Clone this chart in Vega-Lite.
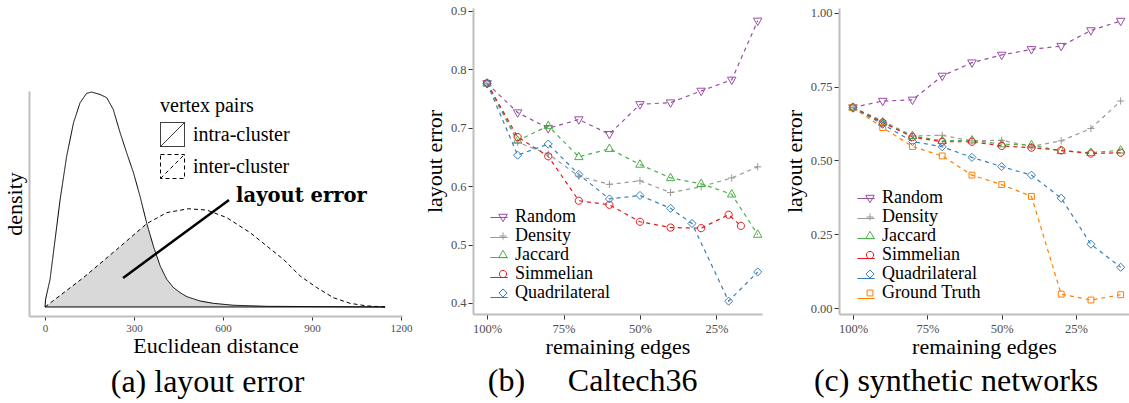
{
  "$schema": "https://vega.github.io/schema/vega-lite/v6.json",
  "padding": {"left": 2, "top": 4, "right": 0, "bottom": 0},
  "config": {
    "font": "Liberation Serif",
    "view": {"stroke": "transparent"},
    "axis": {"grid": false, "labelFlush": false, "domainColor": "#bebebe", "domainWidth": 2, "tickColor": "#333333", "tickWidth": 1, "labelColor": "#4d4d4d", "labelFont": "Liberation Serif", "titleFont": "Liberation Serif", "titleFontWeight": "normal", "titleColor": "#000000"},
    "legend": {"labelFont": "Liberation Serif", "titleFont": "Liberation Serif", "titleFontWeight": "normal", "labelColor": "#000000", "titleColor": "#000000"},
    "title": {"font": "Liberation Serif", "fontWeight": "normal", "fontSize": 32, "color": "#000000", "orient": "bottom", "frame": "bounds", "anchor": "middle"}
  },
  "resolve": {"scale": {"color": "independent", "shape": "independent", "stroke": "independent", "strokeDash": "independent"}, "legend": {"color": "independent", "shape": "independent", "stroke": "independent", "strokeDash": "independent"}},
  "datasets": {
    "density": [
      {"pairs": "intra-cluster", "d": 0, "v": 0}, {"pairs": "intra-cluster", "d": 2, "v": 0.036}, {"pairs": "intra-cluster", "d": 17, "v": 0.129}, {"pairs": "intra-cluster", "d": 34, "v": 0.315}, {"pairs": "intra-cluster", "d": 51, "v": 0.501}, {"pairs": "intra-cluster", "d": 73, "v": 0.702}, {"pairs": "intra-cluster", "d": 96, "v": 0.857}, {"pairs": "intra-cluster", "d": 118, "v": 0.95}, {"pairs": "intra-cluster", "d": 140, "v": 0.994}, {"pairs": "intra-cluster", "d": 157, "v": 1.0}, {"pairs": "intra-cluster", "d": 185, "v": 0.989}, {"pairs": "intra-cluster", "d": 208, "v": 0.974}, {"pairs": "intra-cluster", "d": 230, "v": 0.919}, {"pairs": "intra-cluster", "d": 253, "v": 0.811}, {"pairs": "intra-cluster", "d": 275, "v": 0.718}, {"pairs": "intra-cluster", "d": 298, "v": 0.625}, {"pairs": "intra-cluster", "d": 320, "v": 0.516}, {"pairs": "intra-cluster", "d": 343, "v": 0.388}, {"pairs": "intra-cluster", "d": 365, "v": 0.284}, {"pairs": "intra-cluster", "d": 388, "v": 0.191}, {"pairs": "intra-cluster", "d": 410, "v": 0.129}, {"pairs": "intra-cluster", "d": 433, "v": 0.09}, {"pairs": "intra-cluster", "d": 455, "v": 0.067}, {"pairs": "intra-cluster", "d": 478, "v": 0.048}, {"pairs": "intra-cluster", "d": 522, "v": 0.028}, {"pairs": "intra-cluster", "d": 567, "v": 0.017}, {"pairs": "intra-cluster", "d": 635, "v": 0.008}, {"pairs": "intra-cluster", "d": 747, "v": 0.003}, {"pairs": "intra-cluster", "d": 972, "v": 0.0015}, {"pairs": "intra-cluster", "d": 1146, "v": 0},
      {"pairs": "inter-cluster", "d": 0, "v": 0}, {"pairs": "inter-cluster", "d": 129, "v": 0.136}, {"pairs": "inter-cluster", "d": 242, "v": 0.268}, {"pairs": "inter-cluster", "d": 343, "v": 0.388}, {"pairs": "inter-cluster", "d": 410, "v": 0.439}, {"pairs": "inter-cluster", "d": 483, "v": 0.457}, {"pairs": "inter-cluster", "d": 545, "v": 0.451}, {"pairs": "inter-cluster", "d": 612, "v": 0.416}, {"pairs": "inter-cluster", "d": 691, "v": 0.346}, {"pairs": "inter-cluster", "d": 747, "v": 0.284}, {"pairs": "inter-cluster", "d": 803, "v": 0.222}, {"pairs": "inter-cluster", "d": 860, "v": 0.144}, {"pairs": "inter-cluster", "d": 916, "v": 0.09}, {"pairs": "inter-cluster", "d": 972, "v": 0.043}, {"pairs": "inter-cluster", "d": 1028, "v": 0.017}, {"pairs": "inter-cluster", "d": 1084, "v": 0.005}, {"pairs": "inter-cluster", "d": 1146, "v": 0}
    ],
    "overlap": [
      {"d": 0, "v": 0}, {"d": 129, "v": 0.136}, {"d": 242, "v": 0.268}, {"d": 343, "v": 0.388}, {"d": 365, "v": 0.284}, {"d": 388, "v": 0.191}, {"d": 410, "v": 0.129}, {"d": 433, "v": 0.09}, {"d": 455, "v": 0.067}, {"d": 478, "v": 0.048}, {"d": 522, "v": 0.028}, {"d": 567, "v": 0.017}, {"d": 635, "v": 0.008}, {"d": 747, "v": 0.003}, {"d": 972, "v": 0.0015}, {"d": 1146, "v": 0}
    ],
    "caltech": [
      {"method": "Random", "edges": 100, "err": 0.776}, {"method": "Random", "edges": 90, "err": 0.726}, {"method": "Random", "edges": 80, "err": 0.699}, {"method": "Random", "edges": 70, "err": 0.714}, {"method": "Random", "edges": 60, "err": 0.689}, {"method": "Random", "edges": 50, "err": 0.74}, {"method": "Random", "edges": 40, "err": 0.743}, {"method": "Random", "edges": 30, "err": 0.763}, {"method": "Random", "edges": 20, "err": 0.782}, {"method": "Random", "edges": 11.5, "err": 0.883},
      {"method": "Density", "edges": 100, "err": 0.776}, {"method": "Density", "edges": 90, "err": 0.675}, {"method": "Density", "edges": 80, "err": 0.655}, {"method": "Density", "edges": 70, "err": 0.617}, {"method": "Density", "edges": 60, "err": 0.603}, {"method": "Density", "edges": 50, "err": 0.609}, {"method": "Density", "edges": 40, "err": 0.589}, {"method": "Density", "edges": 30, "err": 0.599}, {"method": "Density", "edges": 20, "err": 0.614}, {"method": "Density", "edges": 11.5, "err": 0.633},
      {"method": "Jaccard", "edges": 100, "err": 0.776}, {"method": "Jaccard", "edges": 90, "err": 0.678}, {"method": "Jaccard", "edges": 80, "err": 0.703}, {"method": "Jaccard", "edges": 70, "err": 0.65}, {"method": "Jaccard", "edges": 60, "err": 0.664}, {"method": "Jaccard", "edges": 50, "err": 0.637}, {"method": "Jaccard", "edges": 40, "err": 0.614}, {"method": "Jaccard", "edges": 30, "err": 0.604}, {"method": "Jaccard", "edges": 20, "err": 0.586}, {"method": "Jaccard", "edges": 11.5, "err": 0.517},
      {"method": "Simmelian", "edges": 100, "err": 0.776}, {"method": "Simmelian", "edges": 90, "err": 0.684}, {"method": "Simmelian", "edges": 80, "err": 0.651}, {"method": "Simmelian", "edges": 70, "err": 0.575}, {"method": "Simmelian", "edges": 60, "err": 0.568}, {"method": "Simmelian", "edges": 50, "err": 0.539}, {"method": "Simmelian", "edges": 40, "err": 0.529}, {"method": "Simmelian", "edges": 30, "err": 0.528}, {"method": "Simmelian", "edges": 21, "err": 0.551}, {"method": "Simmelian", "edges": 17, "err": 0.532},
      {"method": "Quadrilateral", "edges": 100, "err": 0.776}, {"method": "Quadrilateral", "edges": 90, "err": 0.653}, {"method": "Quadrilateral", "edges": 80, "err": 0.672}, {"method": "Quadrilateral", "edges": 70, "err": 0.62}, {"method": "Quadrilateral", "edges": 60, "err": 0.578}, {"method": "Quadrilateral", "edges": 50, "err": 0.584}, {"method": "Quadrilateral", "edges": 40, "err": 0.562}, {"method": "Quadrilateral", "edges": 33, "err": 0.536}, {"method": "Quadrilateral", "edges": 21, "err": 0.403}, {"method": "Quadrilateral", "edges": 11.5, "err": 0.453}
    ],
    "synthetic": [
      {"method": "Random", "edges": 100, "err": 0.679}, {"method": "Random", "edges": 90, "err": 0.701}, {"method": "Random", "edges": 80, "err": 0.705}, {"method": "Random", "edges": 70, "err": 0.786}, {"method": "Random", "edges": 60, "err": 0.831}, {"method": "Random", "edges": 50, "err": 0.857}, {"method": "Random", "edges": 40, "err": 0.876}, {"method": "Random", "edges": 30, "err": 0.887}, {"method": "Random", "edges": 20, "err": 0.94}, {"method": "Random", "edges": 10, "err": 0.972},
      {"method": "Density", "edges": 100, "err": 0.679}, {"method": "Density", "edges": 90, "err": 0.634}, {"method": "Density", "edges": 80, "err": 0.583}, {"method": "Density", "edges": 70, "err": 0.585}, {"method": "Density", "edges": 60, "err": 0.566}, {"method": "Density", "edges": 50, "err": 0.568}, {"method": "Density", "edges": 40, "err": 0.547}, {"method": "Density", "edges": 30, "err": 0.566}, {"method": "Density", "edges": 20, "err": 0.608}, {"method": "Density", "edges": 10, "err": 0.701},
      {"method": "Jaccard", "edges": 100, "err": 0.679}, {"method": "Jaccard", "edges": 90, "err": 0.628}, {"method": "Jaccard", "edges": 80, "err": 0.583}, {"method": "Jaccard", "edges": 70, "err": 0.566}, {"method": "Jaccard", "edges": 60, "err": 0.568}, {"method": "Jaccard", "edges": 50, "err": 0.555}, {"method": "Jaccard", "edges": 40, "err": 0.552}, {"method": "Jaccard", "edges": 30, "err": 0.532}, {"method": "Jaccard", "edges": 20, "err": 0.526}, {"method": "Jaccard", "edges": 10, "err": 0.534},
      {"method": "Simmelian", "edges": 100, "err": 0.679}, {"method": "Simmelian", "edges": 90, "err": 0.628}, {"method": "Simmelian", "edges": 80, "err": 0.579}, {"method": "Simmelian", "edges": 70, "err": 0.563}, {"method": "Simmelian", "edges": 60, "err": 0.563}, {"method": "Simmelian", "edges": 50, "err": 0.549}, {"method": "Simmelian", "edges": 40, "err": 0.543}, {"method": "Simmelian", "edges": 30, "err": 0.534}, {"method": "Simmelian", "edges": 20, "err": 0.523}, {"method": "Simmelian", "edges": 10, "err": 0.526},
      {"method": "Ground Truth", "edges": 100, "err": 0.679}, {"method": "Ground Truth", "edges": 90, "err": 0.611}, {"method": "Ground Truth", "edges": 80, "err": 0.547}, {"method": "Ground Truth", "edges": 70, "err": 0.515}, {"method": "Ground Truth", "edges": 60, "err": 0.45}, {"method": "Ground Truth", "edges": 50, "err": 0.418}, {"method": "Ground Truth", "edges": 40, "err": 0.378}, {"method": "Ground Truth", "edges": 30, "err": 0.047}, {"method": "Ground Truth", "edges": 20, "err": 0.027}, {"method": "Ground Truth", "edges": 10, "err": 0.045},
      {"method": "Quadrilateral", "edges": 100, "err": 0.679}, {"method": "Quadrilateral", "edges": 90, "err": 0.622}, {"method": "Quadrilateral", "edges": 80, "err": 0.564}, {"method": "Quadrilateral", "edges": 70, "err": 0.546}, {"method": "Quadrilateral", "edges": 60, "err": 0.51}, {"method": "Quadrilateral", "edges": 50, "err": 0.479}, {"method": "Quadrilateral", "edges": 40, "err": 0.45}, {"method": "Quadrilateral", "edges": 30, "err": 0.372}, {"method": "Quadrilateral", "edges": 20, "err": 0.216}, {"method": "Quadrilateral", "edges": 10, "err": 0.138}
    ]
  },
  "spacing": 9,
  "hconcat": [
    {
      "spacing": 0,
      "resolve": {"scale": {"strokeDash": "independent"}, "legend": {"strokeDash": "independent"}},
      "vconcat": [
        {"width": 10, "height": 81, "data": {"values": []}, "mark": "point"},
        {
          "width": 373,
          "height": 225,
          "title": {"text": "(a) layout error", "offset": 11},
          "layer": [
            {
              "data": {"name": "overlap"},
              "mark": {"type": "area", "color": "#d9d9d9"},
              "encoding": {
                "x": {"field": "d", "type": "quantitative", "scale": {"domain": [-54, 1203], "nice": false, "zero": false}, "axis": {"title": "Euclidean distance", "values": [0, 300, 600, 900, 1200], "format": "d", "tickSize": 4, "labelPadding": 2, "labelFontSize": 11, "titleFontSize": 22, "titlePadding": 2}},
                "y": {"field": "v", "type": "quantitative", "scale": {"domain": [-0.042, 1.005], "nice": false, "zero": false}, "axis": {"title": "density", "labels": false, "ticks": false, "titleFontSize": 22, "titlePadding": 3}}
              }
            },
            {
              "data": {"values": [{}]},
              "mark": {"type": "rule", "color": "#000000", "strokeWidth": 1},
              "encoding": {"x": {"datum": 0}, "x2": {"datum": 1146}, "y": {"datum": 0}}
            },
            {
              "data": {"name": "density"},
              "mark": {"type": "line", "color": "#000000", "strokeWidth": 1},
              "encoding": {
                "x": {"field": "d", "type": "quantitative"},
                "y": {"field": "v", "type": "quantitative"},
                "strokeDash": {"field": "pairs", "type": "nominal", "scale": {"domain": ["intra-cluster", "inter-cluster"], "range": [[1, 0], [4, 3]]},
                  "legend": {"title": "vertex pairs", "orient": "none", "legendX": 131, "legendY": 5, "symbolType": "M-1,-1H1V1H-1Z M-1,1L1,-1", "symbolSize": 576, "symbolStrokeColor": "#000000", "symbolStrokeWidth": 1, "symbolFillColor": "#ffffff", "labelFontSize": 20, "titleFontSize": 20, "labelOffset": 8, "rowPadding": 3, "titlePadding": 6}}
              }
            },
            {
              "data": {"values": [{}]},
              "mark": {"type": "rule", "color": "#000000", "strokeWidth": 2.5},
              "encoding": {"x": {"datum": 263}, "y": {"datum": 0.135}, "x2": {"datum": 620}, "y2": {"datum": 0.498}}
            },
            {
              "data": {"values": [{"label": "layout error"}]},
              "mark": {"type": "text", "font": "DejaVu Serif", "fontWeight": "bold", "fontSize": 19.5, "align": "left", "baseline": "middle", "color": "#000000"},
              "encoding": {"x": {"datum": 644}, "y": {"datum": 0.516}, "text": {"field": "label"}}
            }
          ]
        }
      ]
    },
    {
      "spacing": 77,
      "bounds": "flush",
      "resolve": {"scale": {"color": "independent", "shape": "independent", "stroke": "independent"}, "legend": {"color": "independent", "shape": "independent", "stroke": "independent"}},
      "hconcat": [
        {
          "width": 289,
          "height": 306,
          "title": {"text": "(b)\u2003\u2004Caltech36", "offset": 8},
          "data": {"name": "caltech"},
          "layer": [
            {
              "mark": {"type": "line", "strokeDash": [4, 4], "strokeWidth": 1.2, "clip": true},
              "encoding": {
                "x": {"field": "edges", "type": "quantitative", "scale": {"domain": [10.1, 104.6], "reverse": true, "nice": false, "zero": false}, "axis": {"title": "remaining edges", "values": [100, 75, 50, 25], "labelExpr": "datum.value + '%'", "tickSize": 5, "labelPadding": 3, "labelFontSize": 12.5, "titleFontSize": 22, "titlePadding": 2}},
                "y": {"field": "err", "type": "quantitative", "scale": {"domain": [0.381, 0.905], "nice": false, "zero": false}, "axis": {"title": "layout error", "values": [0.4, 0.5, 0.6, 0.7, 0.8, 0.9], "format": ".1f", "tickSize": 5, "labelPadding": 2, "labelFontSize": 12.5, "titleFontSize": 22, "titlePadding": 4}},
                "stroke": {"field": "method", "type": "nominal", "scale": {"domain": ["Random", "Density", "Jaccard", "Simmelian", "Quadrilateral", "~"], "range": ["#984EA3", "#999999", "#4DAF4A", "#E41A1C", "#377EB8", "transparent"]},
                  "legend": {"title": null, "orient": "none", "legendX": 16.5, "legendY": 200, "symbolType": "stroke", "symbolSize": 300, "symbolStrokeWidth": 1.2, "symbolDash": [1, 0], "labelFontSize": 18, "labelColor": "transparent", "labelExpr": "' '", "rowPadding": 1}}
              }
            },
            {
              "mark": {"type": "point", "filled": false, "size": 81, "strokeWidth": 1, "clip": true, "opacity": 1},
              "encoding": {
                "x": {"field": "edges", "type": "quantitative"},
                "y": {"field": "err", "type": "quantitative"},
                "color": {"field": "method", "type": "nominal", "scale": {"domain": ["Random", "Density", "Jaccard", "Simmelian", "Quadrilateral"], "range": ["#984EA3", "#999999", "#4DAF4A", "#E41A1C", "#377EB8"]},
                  "legend": {"title": null, "orient": "none", "legendX": 21, "legendY": 200, "symbolSize": 81, "symbolStrokeWidth": 1, "labelFontSize": 18, "labelOffset": 3, "rowPadding": 1}},
                "shape": {"field": "method", "type": "nominal", "scale": {"domain": ["Random", "Density", "Jaccard", "Simmelian", "Quadrilateral"], "range": ["M-0.95,-0.6L0.95,-0.6L0,1.05Z", "M-0.8,0H0.8M0,-0.8V0.8", "M-0.95,0.6L0.95,0.6L0,-1.05Z", "M0.8,0A0.8,0.8 0 1,1 -0.8,0A0.8,0.8 0 1,1 0.8,0Z", "M0,-0.9L0.9,0L0,0.9L-0.9,0Z"]},
                  "legend": {"title": null, "orient": "none", "legendX": 21, "legendY": 200, "symbolSize": 81, "symbolStrokeWidth": 1, "labelFontSize": 18, "labelOffset": 3, "rowPadding": 1}}
              }
            }
          ]
        },
        {
          "width": 290,
          "height": 306,
          "title": {"text": "(c) synthetic networks", "offset": 8},
          "data": {"name": "synthetic"},
          "layer": [
            {
              "mark": {"type": "line", "strokeDash": [4, 4], "strokeWidth": 1.2, "clip": true},
              "encoding": {
                "x": {"field": "edges", "type": "quantitative", "scale": {"domain": [7.2, 104.7], "reverse": true, "nice": false, "zero": false}, "axis": {"title": "remaining edges", "values": [100, 75, 50, 25], "labelExpr": "datum.value + '%'", "tickSize": 5, "labelPadding": 3, "labelFontSize": 12.5, "titleFontSize": 22, "titlePadding": 2}},
                "y": {"field": "err", "type": "quantitative", "scale": {"domain": [-0.0203, 1.016], "nice": false, "zero": false}, "axis": {"title": "layout error", "values": [0, 0.25, 0.5, 0.75, 1], "format": ".2f", "tickSize": 5, "labelPadding": 2, "labelFontSize": 12.5, "titleFontSize": 22, "titlePadding": 4}},
                "stroke": {"field": "method", "type": "nominal", "scale": {"domain": ["Random", "Density", "Jaccard", "Simmelian", "Quadrilateral", "Ground Truth", "~"], "range": ["#984EA3", "#999999", "#4DAF4A", "#E41A1C", "#377EB8", "#FF7F00", "transparent"]},
                  "legend": {"title": null, "orient": "none", "legendX": 17.5, "legendY": 181, "symbolType": "stroke", "symbolSize": 300, "symbolStrokeWidth": 1.2, "symbolDash": [1, 0], "labelFontSize": 18, "labelColor": "transparent", "labelExpr": "' '", "rowPadding": 1}}
              }
            },
            {
              "mark": {"type": "point", "filled": false, "size": 81, "strokeWidth": 1, "clip": true, "opacity": 1},
              "encoding": {
                "x": {"field": "edges", "type": "quantitative"},
                "y": {"field": "err", "type": "quantitative"},
                "color": {"field": "method", "type": "nominal", "scale": {"domain": ["Random", "Density", "Jaccard", "Simmelian", "Quadrilateral", "Ground Truth"], "range": ["#984EA3", "#999999", "#4DAF4A", "#E41A1C", "#377EB8", "#FF7F00"]},
                  "legend": {"title": null, "orient": "none", "legendX": 22, "legendY": 181, "symbolSize": 81, "symbolStrokeWidth": 1, "labelFontSize": 18, "labelOffset": 3, "rowPadding": 1}},
                "shape": {"field": "method", "type": "nominal", "scale": {"domain": ["Random", "Density", "Jaccard", "Simmelian", "Quadrilateral", "Ground Truth"], "range": ["M-0.95,-0.6L0.95,-0.6L0,1.05Z", "M-0.8,0H0.8M0,-0.8V0.8", "M-0.95,0.6L0.95,0.6L0,-1.05Z", "M0.8,0A0.8,0.8 0 1,1 -0.8,0A0.8,0.8 0 1,1 0.8,0Z", "M0,-0.9L0.9,0L0,0.9L-0.9,0Z", "M-0.65,-0.65H0.65V0.65H-0.65Z"]},
                  "legend": {"title": null, "orient": "none", "legendX": 22, "legendY": 181, "symbolSize": 81, "symbolStrokeWidth": 1, "labelFontSize": 18, "labelOffset": 3, "rowPadding": 1}}
              }
            }
          ]
        }
      ]
    }
  ]
}
